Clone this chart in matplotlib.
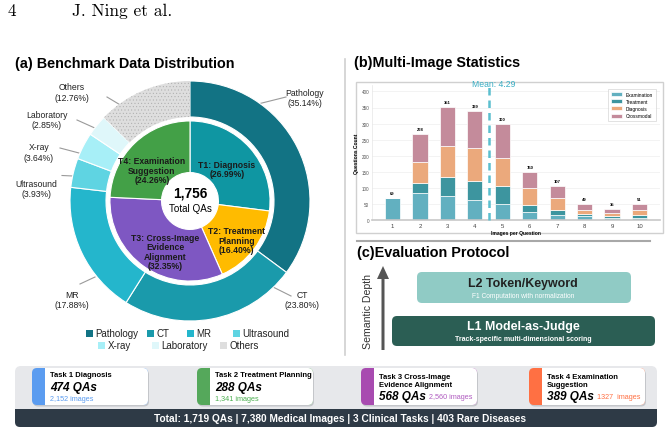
import numpy as np
import matplotlib
matplotlib.use("Agg")
import matplotlib.pyplot as plt
from matplotlib.patches import FancyBboxPatch, Rectangle, FancyArrow

plt.rcParams['font.family'] = ['Liberation Sans', 'DejaVu Sans']
plt.rcParams['hatch.linewidth'] = 0.3

# ---- data ----
modality_labels = ['Pathology', 'CT', 'MR', 'Ultrasound', 'X-ray', 'Laboratory', 'Others']
modality_pct = [35.14, 23.80, 17.88, 3.93, 3.64, 2.85, 12.76]
task_labels = ['T1: Diagnosis', 'T2: Treatment\nPlanning',
               'T3: Cross-Image\nEvidence\nAlignment', 'T4: Examination\nSuggestion']
task_pct = [26.99, 16.40, 32.35, 24.26]
total_qas = '1,756'

images_per_q = [1, 2, 3, 4, 5, 6, 7, 8, 9, 10]
examination = [69, 83, 74, 63, 49, 24, 16, 12, 7, 7]
treatment = [0, 32, 59, 58, 58, 23, 16, 7, 6, 8]
diagnosis = [0, 67, 98, 102, 85, 52, 36, 13, 10, 15]
crossmodal = [0, 86, 120, 116, 108, 51, 39, 17, 12, 21]
series_names = ['Examination', 'Treatment', 'Diagnosis', 'Crossmodal']
mean_value = 4.29
mean_x = 4.5

card_titles = ['Task 1 Diagnosis', 'Task 2 Treatment Planning',
               'Task 3 Cross-Image\nEvidence Alignment', 'Task 4 Examination\nSuggestion']
card_qas = ['474 QAs', '288 QAs', '568 QAs', '389 QAs']
card_images = ['2,152 images', '1,341 images', '2,560 images', '1327  images']
total_line = 'Total: 1,719 QAs | 7,380 Medical Images | 3 Clinical Tasks | 403 Rare Diseases'

# ---- styles ----
modality_colors = ['#127384', '#1a9aab', '#24b6cc', '#5fd4e2', '#a7eff7', '#dff7fa', '#dedede']
task_colors = ['#0f96a2', '#ffbb00', '#7e57c2', '#43a047']
bar_colors = ['#62b0c0', '#3d959f', '#eba97c', '#c48b9b']
card_colors = ['#5b9cf0', '#55a85b', '#a84bb0', '#ff7043']
card_text_colors = ['#5b9cf0', '#4caf50', '#b05cc0', '#ff7043']

W, H = 669, 435
fig = plt.figure(figsize=(W / 100, H / 100), dpi=100)

# overlay axes in pixel coordinates
ov = fig.add_axes([0, 0, 1, 1])
ov.set_xlim(0, W)
ov.set_ylim(H, 0)
ov.axis('off')


def rbox(x, y, w, h, r, fc, ec='none', lw=0, z=1):
    p = FancyBboxPatch((x, y), w, h, boxstyle='round,pad=0,rounding_size=%g' % r,
                       fc=fc, ec=ec, lw=lw, zorder=z)
    ov.add_patch(p)
    return p


# header
ov.text(8, 11, '4', fontsize=12.5, family='cmr10', va='center')
ov.text(72, 11, 'J. Ning et al.', fontsize=12.5, family='cmr10', va='center')

# titles
ov.text(15, 64, '(a) Benchmark Data Distribution', fontsize=10.4, fontweight='bold', va='center')
ov.text(354, 63, '(b)Multi-Image Statistics', fontsize=10.4, fontweight='bold', va='center')
ov.text(357, 253, '(c)Evaluation Protocol', fontsize=10.4, fontweight='bold', va='center')

# separators
ov.plot([345, 345], [60, 356], color='#d0d0d0', lw=1.2)
ov.plot([357, 650], [242, 242], color='#a8a8a8', lw=1.5)

# ---- (a) donut ----
cx, cy, R = 190, 202, 120
ax_d = fig.add_axes([(cx - R) / W, (H - cy - R) / H, 2 * R / W, 2 * R / H])
ax_d.set_facecolor('none')
outer, _ = ax_d.pie(modality_pct, radius=1, startangle=90, counterclock=False,
                    colors=modality_colors,
                    wedgeprops=dict(width=0.30, edgecolor='white', linewidth=0.8))
outer[-1].set_hatch('.....')
outer[-1].set_edgecolor('#a9a9a9')
outer[-1].set_linewidth(0)
inner, _ = ax_d.pie(task_pct, radius=0.667, startangle=90, counterclock=False,
                    colors=task_colors,
                    wedgeprops=dict(width=0.43, edgecolor='white', linewidth=0.8))
ax_d.set_xlim(-1, 1)
ax_d.set_ylim(-1, 1)
ax_d.set_aspect('equal')
ax_d.set_xticks([])
ax_d.set_yticks([])
for s in ax_d.spines.values():
    s.set_color('#d4d4d4')
    s.set_linewidth(0.8)

# inner labels (axes units, radius 1 = outer ring)
task_label_xy = [(0.306, 0.269), (0.389, -0.325), (-0.208, -0.422), (-0.317, 0.258)]
for lab, pct, (lx, ly) in zip(task_labels, task_pct, task_label_xy):
    ax_d.text(lx, ly, '%s\n(%.2f%%)' % (lab, pct),
              ha='center', va='center', fontsize=6.2, fontweight='bold',
              color='#1a1a1a', linespacing=1.05)

ax_d.text(0, 0.075, total_qas, ha='center', va='center', fontsize=9.8, fontweight='bold')
ax_d.text(0, -0.06, 'Total QAs', ha='center', va='center', fontsize=7.1)

# outer labels with leader lines (pixel layout)
label_layout = [
    ((305, 98.5), (258, 105), (286, 98)),
    ((302, 300.5), (273, 288), (291, 297)),
    ((72, 300.5), (80, 285), (95, 278)),
    ((36, 189.5), (62, 176.5), (73, 177)),
    ((39, 153), (60, 149), (79, 154)),
    ((47, 120.5), (77, 121), (97, 130)),
    ((72, 93), (107, 98), (122, 107)),
]
for lab, pct, (tp, p0, p1) in zip(modality_labels, modality_pct, label_layout):
    ov.text(tp[0], tp[1], '%s\n(%.2f%%)' % (lab, pct), ha='center', va='center',
            fontsize=6.2, color='#222222', linespacing=1.15)
    ov.plot([p0[0], p1[0]], [p0[1], p1[1]], color='#9a9a9a', lw=0.8)

# legend (manual, two centred rows)
legend_pos = [(86, 334), (147, 334), (187, 334), (233, 334), (98, 346), (152, 346), (220, 346)]
for lab, col, (lx, ly) in zip(modality_labels, modality_colors, legend_pos):
    ov.add_patch(Rectangle((lx, ly - 3.5), 7, 7, fc=col, ec='none'))
    ov.text(lx + 9.5, ly, lab, fontsize=7, va='center', color='#222222')

# ---- (b) stacked bars ----
ov.add_patch(Rectangle((356, 83), 307, 151, fc='white', ec='#d0d0d0', lw=1))
ax_b = fig.add_axes([372 / W, (H - 221) / H, (660 - 372) / W, (221 - 86) / H])
ax_b.set_facecolor('white')
bottom = np.zeros(len(images_per_q))
for vals, col, name in zip([examination, treatment, diagnosis, crossmodal], bar_colors, series_names):
    ax_b.bar(images_per_q, vals, width=0.55, bottom=bottom, color=col,
             edgecolor='white', linewidth=0.5, label=name, zorder=2)
    bottom += np.array(vals)
for x, t in zip(images_per_q, bottom):
    ax_b.text(x, t + 9, '%d' % t, ha='center', va='bottom', fontsize=3, fontweight='bold')
ax_b.plot([mean_x, mean_x], [0, 415], color='#5bbfcf', lw=1.8, ls=(0, (3, 2)), zorder=3,
          clip_on=False)
ax_b.text(mean_x + 0.2, 424, 'Mean: %.2f' % mean_value, ha='center', va='center',
          fontsize=6.2, color='#3aaec4', clip_on=False)
ax_b.set_xlim(0.25, 10.75)
ax_b.set_ylim(0, 420)
ax_b.set_xticks(images_per_q)
ax_b.set_yticks(range(0, 401, 50))
ax_b.tick_params(axis='y', labelsize=3.3, length=0, pad=2, labelcolor='#555555')
ax_b.tick_params(axis='x', labelsize=4.3, length=0, pad=2, labelcolor='#444444')
ax_b.grid(axis='y', color='#eeeeee', lw=0.5)
ax_b.set_axisbelow(True)
for k in ['top', 'right']:
    ax_b.spines[k].set_visible(False)
ax_b.spines['left'].set_color('#e6e6e6')
ax_b.spines['left'].set_linewidth(0.5)
ax_b.spines['bottom'].set_color('#c8c8c8')
ax_b.spines['bottom'].set_linewidth(1.2)
ax_b.set_xlabel('Images per Question', fontsize=3.6, fontweight='bold', labelpad=1.5)
ax_b.set_ylabel('Questions Count', fontsize=3.6, fontweight='bold', labelpad=2)
leg = ax_b.legend(loc='upper right', fontsize=3.5, frameon=True, handlelength=2.2,
                  handleheight=0.9, borderpad=0.6, labelspacing=0.45, fancybox=False,
                  bbox_to_anchor=(0.995, 0.99))
leg.get_frame().set_edgecolor('#cccccc')
leg.get_frame().set_linewidth(0.5)

# ---- (c) evaluation protocol ----
ov.add_patch(FancyArrow(383, 351, 0, -84, width=3, head_width=12, head_length=13,
                        length_includes_head=True, color='#555555', lw=0))
ov.text(368, 312, 'Semantic Depth', rotation=90, fontsize=7.6, color='#333333',
        ha='center', va='center')
rbox(417, 273, 214, 31, 5, '#90cbc5')
ov.text(523, 284, 'L2 Token/Keyword', ha='center', va='center', fontsize=8.9,
        fontweight='bold', color='#222222')
ov.text(523, 297, 'F1 Computation with normalization', ha='center', va='center',
        fontsize=4.8, color='white')
rbox(392, 317, 263, 30, 5, '#2b5e54')
ov.text(523, 327.5, 'L1 Model-as-Judge', ha='center', va='center', fontsize=8.9,
        fontweight='bold', color='white')
ov.text(523, 339.5, 'Track-specific multi-dimensional scoring', ha='center', va='center',
        fontsize=5, fontweight='bold', color='white')

# ---- bottom summary ----
rbox(15, 367, 642, 61, 6, '#e7e8eb')
rbox(15, 410, 642, 18, 5, '#2e3a46')
ov.add_patch(Rectangle((15, 410), 642, 7, fc='#2e3a46', ec='none', zorder=1))
ov.text(340, 419.5, total_line, ha='center', va='center', fontsize=7.3,
        fontweight='bold', color='white', zorder=3)

card_x = [(32, 148), (197, 313), (361, 477), (529, 645)]
cy0, cy1 = 369, 406
for i, (x0, x1) in enumerate(card_x):
    rbox(x0 + 1, cy0 + 1.5, x1 - x0, cy1 - cy0, 5, '#c4c6ca', z=1)
    rbox(x0, cy0, x1 - x0, cy1 - cy0, 5, card_colors[i], z=2)
    rbox(x0 + 13, cy0, x1 - x0 - 13, cy1 - cy0, 5, 'white', z=2)
    ov.add_patch(Rectangle((x0 + 13, cy0), 6, cy1 - cy0, fc='white', ec='none', zorder=2))
    tx = x0 + 18
    if '\n' in card_titles[i]:
        ov.text(tx, 381.5, card_titles[i], fontsize=5.5, fontweight='bold', va='center',
                linespacing=1.25, zorder=3)
        ov.text(tx, 397, card_qas[i], fontsize=8.5, fontweight='bold', style='italic',
                va='center', zorder=3)
        ov.text(x0 + 68, 398, card_images[i], fontsize=5.2,
                color=card_text_colors[i], va='center', zorder=3)
    else:
        ov.text(tx, 376, card_titles[i], fontsize=5.5, fontweight='bold', va='center', zorder=3)
        ov.text(tx, 388, card_qas[i], fontsize=8.5, fontweight='bold', style='italic',
                va='center', zorder=3)
        ov.text(tx, 399.5, card_images[i], fontsize=5.2, color=card_text_colors[i],
                va='center', zorder=3)

fig.savefig('out.png', dpi=100)
